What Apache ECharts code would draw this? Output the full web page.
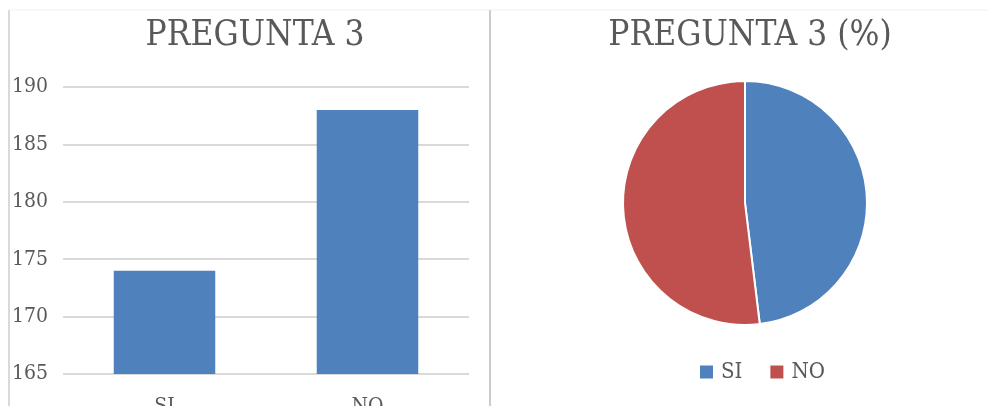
<!DOCTYPE html>
<html>
<head>
<meta charset="utf-8">
<script src="https://cdn.jsdelivr.net/npm/echarts@6/dist/echarts.min.js"></script>
<style>html,body{margin:0;padding:0;background:#fff;}#c{width:988px;height:406px;}</style>
</head>
<body>
<div id="c"></div>
<script>
const categories = ['SI', 'NO'];
const barValues = [174, 188];
const pieValues = [174, 188];
const yTicks = [165, 170, 175, 180, 185, 190];
const barTitle = 'PREGUNTA 3';
const pieTitle = 'PREGUNTA 3 (%)';

const FONT = '"DejaVu Serif Condensed", "DejaVu Serif", serif';
const TXT = '#595959';
const BLUE = '#4F81BD';
const RED = '#C0504D';

const chart = echarts.init(document.getElementById('c'));
chart.setOption({
  animation: false,
  backgroundColor: '#fff',
  title: [
    { text: barTitle, left: 250, top: 13, textAlign: 'center',
      textStyle: { fontFamily: FONT, fontSize: 35, fontWeight: 'normal', color: TXT } },
    { text: pieTitle, left: 745, top: 13, textAlign: 'center',
      textStyle: { fontFamily: FONT, fontSize: 35, fontWeight: 'normal', color: TXT } }
  ],
  graphic: [
    { type: 'line', shape: { x1: 9, y1: 10, x2: 9, y2: 406 }, style: { stroke: '#d9d9d9', lineWidth: 2 }, silent: true },
    { type: 'line', shape: { x1: 9, y1: 10, x2: 988, y2: 10 }, style: { stroke: '#f0f0f0', lineWidth: 1 }, silent: true },
    { type: 'line', shape: { x1: 490, y1: 10, x2: 490, y2: 406 }, style: { stroke: '#cccccc', lineWidth: 2 }, silent: true }
  ],
  grid: { left: 63, right: 519, top: 87, bottom: 32, outerBoundsMode: 'none', containLabel: false },
  xAxis: {
    type: 'category', data: categories,
    axisLine: { show: false }, axisTick: { show: false },
    axisLabel: { fontFamily: FONT, fontSize: 21, color: TXT, margin: 22, verticalAlign: 'top' }
  },
  yAxis: {
    type: 'value', min: yTicks[0], max: yTicks[yTicks.length - 1], interval: 5,
    axisLine: { show: false }, axisTick: { show: false },
    axisLabel: { fontFamily: FONT, fontSize: 21, color: TXT, margin: 15 },
    splitLine: { lineStyle: { color: '#d9d9d9', width: 2 } }
  },
  legend: {
    left: 698, top: 361, padding: 0, itemWidth: 15, itemHeight: 15, itemGap: 26,
    icon: 'rect', data: categories,
    textStyle: { fontFamily: FONT, fontSize: 22, color: TXT, padding: [0, 0, 0, 2] }
  },
  series: [
    { type: 'bar', data: barValues, barWidth: '50%',
      itemStyle: { color: BLUE } },
    { type: 'pie', center: [745, 203], radius: 122, startAngle: 90, clockwise: true,
      label: { show: false }, labelLine: { show: false },
      itemStyle: { borderColor: '#fff', borderWidth: 2 },
      data: categories.map((c, i) => ({ name: c, value: pieValues[i], itemStyle: { color: i === 0 ? BLUE : RED } }))
    }
  ]
});
</script>
</body>
</html>
